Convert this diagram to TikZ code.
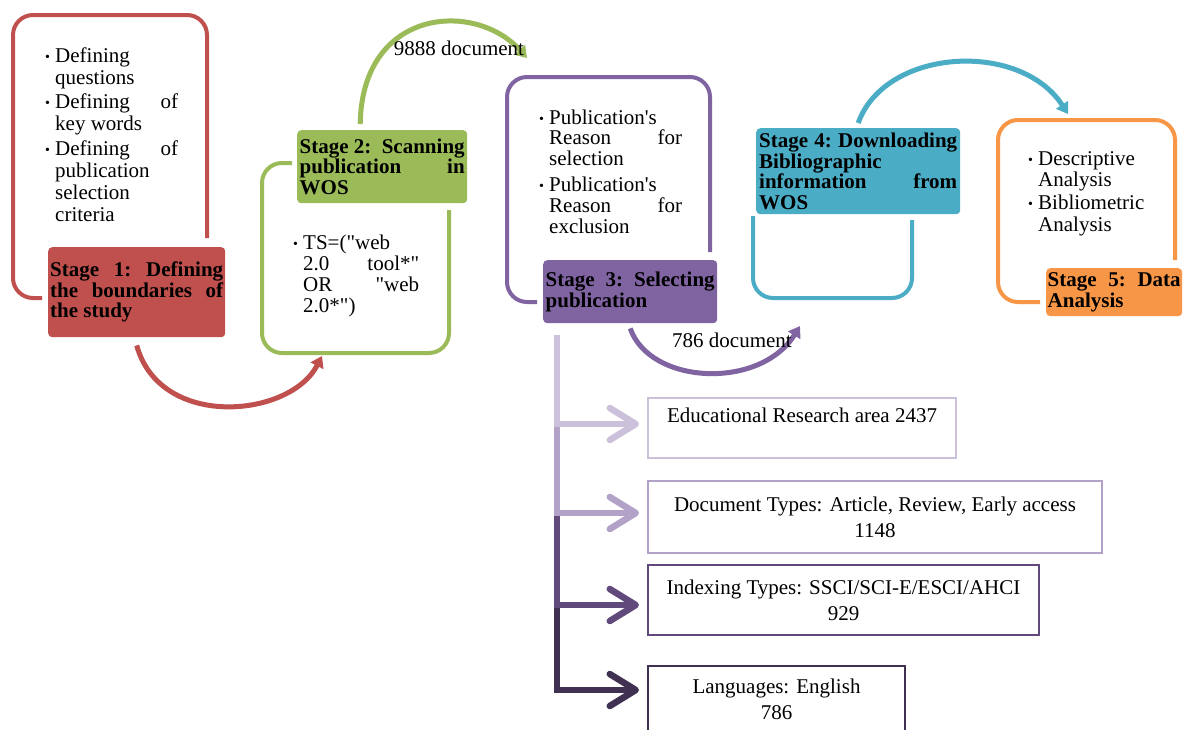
\documentclass[tikz,border=0pt]{standalone}
\usepackage{fontspec}
\setmainfont{Liberation Serif}[Ligatures=TeXOff]
\usetikzlibrary{arrows.meta}
\definecolor{cred}{HTML}{C0504D}
\definecolor{cgreen}{HTML}{9BBB59}
\definecolor{cpurple}{HTML}{8064A2}
\definecolor{cblue}{HTML}{4BACC6}
\definecolor{corange}{HTML}{F79646}
\definecolor{lvone}{HTML}{CCC1DA}
\definecolor{lvtwo}{HTML}{B3A2C7}
\definecolor{lvthree}{HTML}{604A7B}
\definecolor{lvfour}{HTML}{403152}
\newcommand\smbul{\raisebox{1pt}{\fontsize{14}{14}\selectfont\textbullet}}
\newcommand\bitem[1]{\par\hangindent=10pt\hangafter=1\noindent\hbox to 10pt{\smbul\hss}#1}
\newcommand\blistbox[3]{\parbox[t]{#1}{\parskip=#2\relax\hyphenpenalty=10000 #3}}
\begin{document}
\begin{tikzpicture}[x=1pt,y=-1pt,
  outl/.style={line width=4pt, rounded corners=20pt},
  sbox/.style={rounded corners=4pt, inner sep=0pt, anchor=north west, font=\fontsize{21}{20.5}\selectfont\bfseries},
  blist/.style={anchor=base west, inner sep=0pt, font=\fontsize{21}{22}\selectfont},
  arc/.style={line width=5pt, -{Triangle[length=11pt,width=14pt]}},
  lbl/.style={anchor=base, inner sep=0pt, font=\fontsize{21}{24}\selectfont},
  tbox/.style={draw, line width=2pt, inner sep=0pt, anchor=north west, align=center, font=\fontsize{21}{26}\selectfont},
  tree/.style={line width=6.5pt, shorten >=8pt, -{Straight Barb[length=26pt,width=32pt,round]}},
]
\fill[white] (0,0) rectangle (1185,729);
\useasboundingbox (0,0) rectangle (1185,729);

% outlines
\draw[outl, cred] (42,298) -- (13,298) -- (13,15) -- (207,15) -- (207,238);
\draw[outl, cgreen] (292,163) -- (262,163) -- (262,353) -- (449,353) -- (449,210);
\draw[outl, cpurple] (537,302) -- (507,302) -- (507,77) -- (710,77) -- (710,252);
\draw[outl, cblue] (753,216) -- (753,298) -- (912,298) -- (912,220);
\draw[outl, corange] (1040,302) -- (998,302) -- (998,120) -- (1175,120) -- (1175,260);

% stage boxes
\node[sbox, fill=cred, minimum width=177pt, minimum height=90pt] (s1) at (48,247)
  {\parbox{173pt}{Stage\hfill 1:\hfill Defining\\the\hfill boundaries\hfill of\\the study}};
\node[sbox, fill=cgreen, minimum width=170pt, minimum height=73pt] (s2) at (297,130)
  {\parbox{165pt}{Stage 2:\hfill Scanning\\publication\hfill in\\WOS}};
\node[sbox, fill=cpurple, minimum width=174pt, minimum height=63pt] (s3) at (543,260)
  {\parbox{169pt}{Stage\hfill 3:\hfill Selecting\\publication}};
\node[sbox, fill=cblue, minimum width=204pt, minimum height=86pt] (s4) at (756,128)
  {\parbox{198pt}{Stage\hfill 4:\hfill Downloading\\Bibliographic\\information\hfill from\\WOS}};
\node[sbox, fill=corange, minimum width=136pt, minimum height=48pt] (s5) at (1046,268)
  {\parbox{133pt}{Stage\hfill 5:\hfill Data\\Analysis}};

% bullet lists
\node[blist, font=\fontsize{21}{22}\selectfont] (l1) at (45,62) {\blistbox{133pt}{2.5pt}{%
\bitem{Defining\\questions}
\bitem{Defining\hfill of\\key words}
\bitem{Defining\hfill of\\publication\\selection\\criteria}}};
\node[blist, font=\fontsize{21}{21.3}\selectfont] (l2) at (293,249) {\blistbox{126pt}{0pt}{%
\bitem{TS=("web\\2.0\hfill tool*"\\OR\hfill "web\\2.0*")}}};
\node[blist, font=\fontsize{21}{20.8}\selectfont] (l3) at (539,124) {\blistbox{143pt}{5pt}{%
\bitem{Publication's\\Reason\hfill for\\selection}
\bitem{Publication's\\Reason\hfill for\\exclusion}}};
\node[blist, font=\fontsize{21}{21.5}\selectfont] (l5) at (1028,165) {\blistbox{130pt}{1.5pt}{%
\bitem{Descriptive\\Analysis}
\bitem{Bibliometric\\Analysis}}};

% arcs between stages
\coordinate (e1) at (322,356);
\coordinate (e2) at (527,58);
\coordinate (e3) at (800,326);
\coordinate (e4) at (1068,114);
\draw[arc, cred] ([yshift=-8pt]s1.south) .. controls (160,430) and (290,418) .. (e1);
\draw[arc, cgreen] ([xshift=-22pt,yshift=6pt]s2.north) .. controls (362,8) and (475,0) .. (e2);
\draw[arc, cpurple] ([yshift=-5pt]s3.south) .. controls (650,385) and (760,390) .. (e3);
\draw[arc, cblue] ([yshift=5pt]s4.north) .. controls (885,48) and (1020,40) .. (e4);
\node[lbl] (n1) at (459,55) {9888 document};
\node[lbl] (n2) at (732,347) {786 document};

% result boxes
\node[tbox, draw=lvone, minimum width=308pt, minimum height=60pt] (b1) at (647,397)
  {Educational Research area 2437\\[-9pt]\strut};
\node[tbox, draw=lvtwo, minimum width=454pt, minimum height=72pt] (b2) at (647,480)
  {Document Types: Article, Review, Early access\\1148};
\node[tbox, draw=lvthree, minimum width=391pt, minimum height=70pt] (b3) at (647,564)
  {Indexing Types: SSCI/SCI-E/ESCI/AHCI\\929};
\node[tbox, draw=lvfour, minimum width=257pt, minimum height=67pt] (b4) at (647,665)
  {Languages: English\\786};

% tree
\coordinate (t0) at (557,335);
\coordinate (t1) at (557,424);
\coordinate (t2) at (557,513);
\coordinate (t3) at (557,605);
\coordinate (t4) at (557,690);
\draw[tree, lvone] (t0) -- (t1) -- (t1 -| b1.west);
\draw[tree, lvtwo] ([yshift=-3pt]t1) -- (t2) -- (t2 -| b2.west);
\draw[tree, lvthree] ([yshift=-3pt]t2) -- (t3) -- (t3 -| b3.west);
\draw[tree, lvfour] ([yshift=-3pt]t3) -- (t4) -- (t4 -| b4.west);
\end{tikzpicture}
\end{document}
